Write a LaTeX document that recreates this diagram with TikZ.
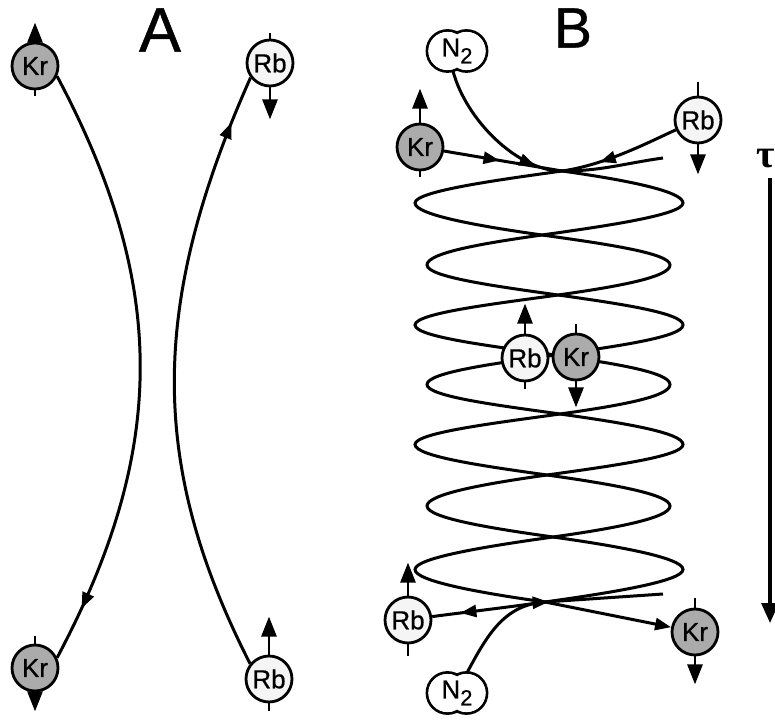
\documentclass[tikz,border=0pt]{standalone}
\usepackage{fontspec}
\setsansfont{Liberation Sans}
\newfontfamily\atomfont{Liberation Sans}[FakeBold=0.7]
\newfontfamily\taufont{Liberation Serif}
\usetikzlibrary{arrows.meta,decorations.markings,backgrounds}
\def\lens#1#2#3#4#5{\draw[helix] (#1) .. controls +(-8:62) and +(0,12) .. (#5,#3)
  .. controls +(0,-12) and +(8:62) .. (#2) .. controls +(172:62) and +(0,-12) .. (#4,#3)
  .. controls +(0,12) and +(188:62) .. (#1);}
\def\spinup#1#2#3{\draw[spintick] (#1.south) -- ++(0,-#3); \draw[spin] (#1.north) -- ++(0,#2);}
\def\spindown#1#2#3{\draw[spintick] (#1.north) -- ++(0,#3); \draw[spin] (#1.south) -- ++(0,-#2);}
\def\peanut#1{\begin{scope}[on background layer]
  \draw[line width=2.8pt] ([xshift=-9.5pt]#1.center) circle[radius=20.5pt] ([xshift=9.5pt]#1.center) circle[radius=20.5pt];
  \fill[white] ([xshift=-9.5pt]#1.center) circle[radius=19.1pt] ([xshift=9.5pt]#1.center) circle[radius=19.1pt];
  \end{scope}}

\begin{document}
\begin{tikzpicture}[x=1pt, y=1pt,
   >={Triangle[length=16pt,width=12pt]},
   atom/.style={circle, draw, line width=2.8pt, minimum size=46pt, inner sep=0pt,
                font=\atomfont\fontsize{26}{26}\selectfont},
   kr/.style={atom, fill=black!33},
   rb/.style={atom, fill=black!4},
   ntwo/.style={inner sep=0pt, minimum width=60pt, minimum height=40pt,
                font=\atomfont\fontsize{26}{26}\selectfont},
   lbl/.style={font=\atomfont\fontsize{60}{60}\selectfont},
   track/.style={line width=3pt},
   helix/.style={line width=3pt},
   arrowat/.style={postaction={decorate},
                   decoration={markings, mark=at position #1 with {\arrow{>}}}},
   spin/.style={line width=2.8pt, -{Triangle[length=20pt,width=15pt]}},
   spintick/.style={line width=2.8pt},
]
\useasboundingbox (0,0) rectangle (775,720);
% panel A
\node[lbl, font=\atomfont\fontsize{63}{63}\selectfont] (labA) at (160,690) {A};
\node[kr] (kA1) at (35,654) {Kr};
\node[rb] (rA1) at (270,657) {Rb};
\node[kr] (kA2) at (35,52) {Kr};
\node[rb] (rA2) at (269,41) {Rb};
\draw[track, arrowat=0.91] (kA1.-25) .. controls +(-62:236) and +(62:236) .. (kA2.25);
\draw[track, arrowat=0.92] (rA2.141) .. controls +(117:224) and +(246:248) .. (rA1.217);
% panel B: crossings of the helix
\coordinate (c0) at (562,549);
\coordinate (c1) at (542,485);
\coordinate (c2) at (558,425);
\coordinate (c3) at (555,365);
\coordinate (c4) at (560,306);
\coordinate (c5) at (547,245);
\coordinate (c6) at (553,183);
\coordinate (c7) at (545,118);
\coordinate (ft1) at (663,562);
\coordinate (ft2) at (663,126);
% helix
\lens{c0}{c1}{517}{415}{683}
\lens{c1}{c2}{455}{427}{670}
\lens{c2}{c3}{395}{415}{683}
\lens{c3}{c4}{335.5}{427}{670}
\lens{c4}{c5}{275.5}{415}{683}
\lens{c5}{c6}{214}{427}{670}
\lens{c6}{c7}{150.5}{415}{683}
% atoms
\node[lbl, font=\atomfont\fontsize{57}{57}\selectfont] (labB) at (573,692) {B};
\node[ntwo] (nB1) at (457,669) {N\raisebox{-7pt}{\fontsize{22}{22}\selectfont 2}};
\node[kr] (kB1) at (420,573) {Kr};
\node[rb] (rB1) at (698,600) {Rb};
\node[rb] (rB2) at (525,362) {Rb};
\node[kr] (kB2) at (576,363) {Kr};
\node[rb] (rB3) at (408,100) {Rb};
\node[kr] (kB3) at (695,88) {Kr};
\node[ntwo] (nB2) at (457,27) {N\raisebox{-7pt}{\fontsize{22}{22}\selectfont 2}};
\peanut{nB1}
\peanut{nB2}
% edges
\draw[helix, arrowat=0.47] (kB1) -- (c0);
\draw[helix, arrowat=0.68] (rB1) .. controls +(204:50) and +(8:45) .. (c0);
\draw[helix, arrowat=0.5] ([xshift=-4pt]nB1.south) .. controls +(-75:50) and +(180:45) .. (c0)
  .. controls +(0:40) and +(188:40) .. (ft1);
\draw[helix, arrowat=0.75] (c7) .. controls +(188:40) and +(8:40) .. (rB3);
\draw[helix, ->] (c7) -- (kB3);
\draw[helix, arrowat=0.5] ([xshift=10pt]nB2.north) .. controls +(62:45) and +(184:40) .. (c7) -- (ft2);
% spins
\spinup{kA1}{19}{6}
\spindown{rA1}{32}{6}
\spindown{kA2}{19}{8}
\spinup{rA2}{38}{8}
\spinup{kB1}{34}{6}
\spindown{rB1}{30}{14}
\spinup{rB2}{30}{7}
\spindown{kB2}{26}{9}
\spinup{rB3}{33}{12}
\spindown{kB3}{28}{10}
% time axis
\node[font=\taufont\bfseries\fontsize{40}{40}\selectfont] (tau) at (766,561) {τ};
\coordinate (tend) at (770,97);
\draw[line width=3.2pt, -{Triangle[length=20pt,width=17pt]}] ([yshift=-6pt]tend |- tau.south) -- (tend);
\end{tikzpicture}
\end{document}
